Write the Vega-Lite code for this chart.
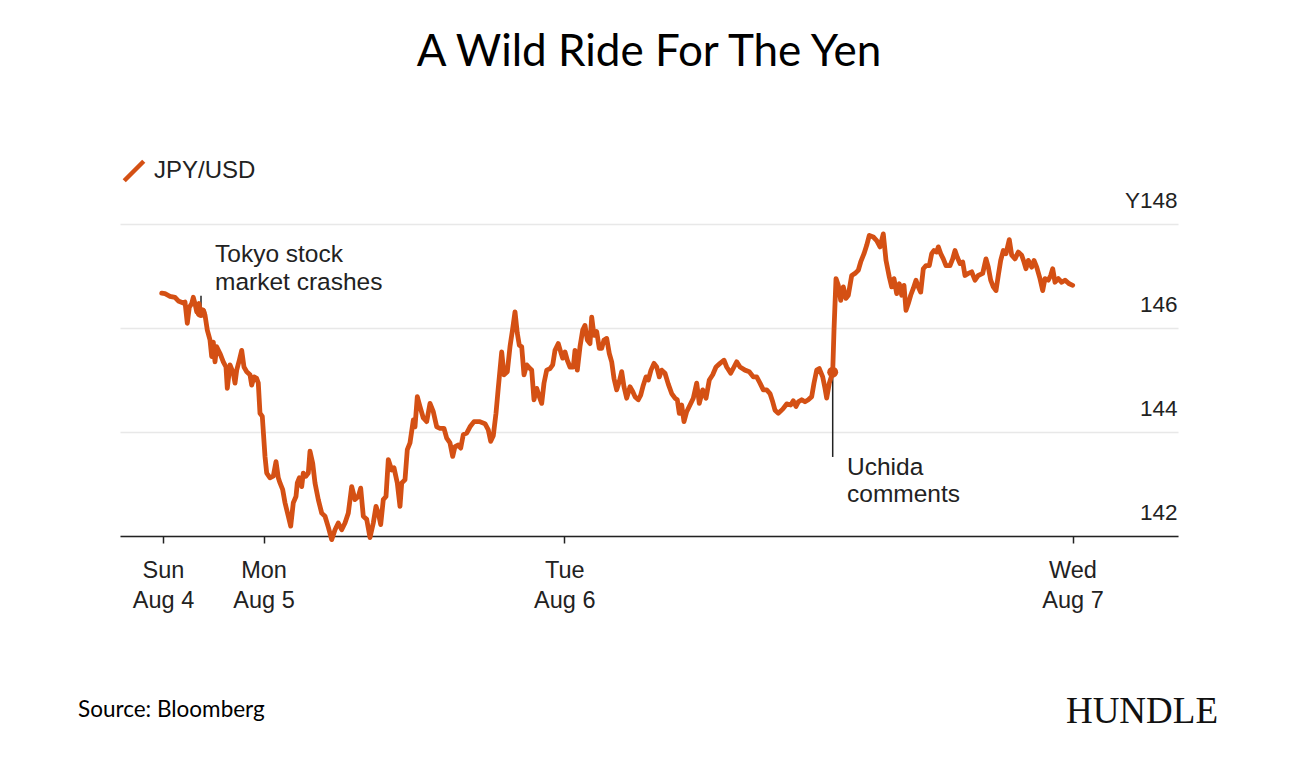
{
  "$schema": "https://vega.github.io/schema/vega-lite/v6.json",
  "width": 1058,
  "height": 312,
  "autosize": {"type": "none"},
  "padding": {"left": 120, "top": 224, "right": 118, "bottom": 242},
  "background": "white",
  "config": {"view": {"stroke": null}},
  "title": {
    "text": "A Wild Ride For The Yen",
    "font": "Lato",
    "fontSize": 44,
    "fontWeight": "normal",
    "color": "#000000",
    "anchor": "middle",
    "frame": "group",
    "baseline": "alphabetic",
    "offset": 49
  },
  "layer": [
    {
      "data": {"values": [
        {"t": 81, "v": 146.62, "v2": 146.3},
        {"t": 712.7, "v": 145.15, "v2": 143.52}
      ]},
      "mark": {"type": "rule", "color": "#222222", "strokeWidth": 1.5},
      "encoding": {
        "x": {"field": "t", "type": "quantitative"},
        "y": {"field": "v", "type": "quantitative"},
        "y2": {"field": "v2"}
      }
    },
    {
      "data": {"values": [
        {"t":41.7,"v":146.67},{"t":45,"v":146.66},{"t":50,"v":146.61},{"t":55,"v":146.59},{"t":58.3,"v":146.52},{"t":63.3,"v":146.48},{"t":65,"v":146.5},{"t":67.3,"v":146.09},{"t":69.3,"v":146.4},{"t":71.7,"v":146.47},{"t":73.3,"v":146.59},{"t":75,"v":146.47},{"t":76.7,"v":146.31},{"t":79,"v":146.47},{"t":80.7,"v":146.25},{"t":83.3,"v":146.34},{"t":85,"v":146.25},{"t":87.3,"v":145.96},{"t":90,"v":145.77},{"t":91.7,"v":145.45},{"t":93.3,"v":145.73},{"t":95,"v":145.35},{"t":96.7,"v":145.64},{"t":100,"v":145.51},{"t":103.3,"v":145.35},{"t":106,"v":145.25},{"t":107.3,"v":144.84},{"t":110,"v":145.29},{"t":113.3,"v":145.13},{"t":115,"v":144.94},{"t":116.7,"v":145.19},{"t":119.3,"v":145.38},{"t":121.7,"v":145.57},{"t":124,"v":145.25},{"t":126.7,"v":145.16},{"t":130,"v":145.1},{"t":131.7,"v":144.9},{"t":134,"v":145.06},{"t":136.7,"v":145.03},{"t":138.3,"v":144.94},{"t":140,"v":144.36},{"t":142.3,"v":144.3},{"t":145,"v":143.53},{"t":146.7,"v":143.21},{"t":150,"v":143.12},{"t":153.3,"v":143.15},{"t":156,"v":143.43},{"t":158.3,"v":143.12},{"t":160,"v":143.02},{"t":162.7,"v":142.89},{"t":165,"v":142.64},{"t":168.3,"v":142.38},{"t":170.7,"v":142.19},{"t":173.3,"v":142.64},{"t":176,"v":142.76},{"t":177.3,"v":143.02},{"t":179.3,"v":143.12},{"t":181.7,"v":142.95},{"t":183.3,"v":143.21},{"t":186,"v":143.15},{"t":188.3,"v":143.21},{"t":190,"v":143.63},{"t":192.7,"v":143.4},{"t":195,"v":143.02},{"t":198.3,"v":142.7},{"t":201.7,"v":142.44},{"t":205,"v":142.38},{"t":208.3,"v":142.17},{"t":211.7,"v":141.93},{"t":215,"v":142.12},{"t":218.3,"v":142.25},{"t":221.7,"v":142.12},{"t":225,"v":142.25},{"t":228.3,"v":142.44},{"t":231.7,"v":142.95},{"t":235,"v":142.7},{"t":238.3,"v":142.76},{"t":240.7,"v":142.92},{"t":243.3,"v":142.38},{"t":246.7,"v":142.32},{"t":250,"v":141.97},{"t":253.3,"v":142.25},{"t":256,"v":142.57},{"t":258.3,"v":142.44},{"t":260.7,"v":142.22},{"t":263.3,"v":142.7},{"t":266,"v":142.76},{"t":268.3,"v":143.47},{"t":271.7,"v":143.27},{"t":274,"v":143.31},{"t":277.3,"v":143.02},{"t":280,"v":142.57},{"t":281.7,"v":143.02},{"t":285,"v":143.08},{"t":287.3,"v":143.66},{"t":290,"v":143.79},{"t":293.3,"v":144.23},{"t":295,"v":144.1},{"t":297.3,"v":144.68},{"t":300,"v":144.49},{"t":303.3,"v":144.27},{"t":306.7,"v":144.2},{"t":310,"v":144.55},{"t":313.3,"v":144.39},{"t":316.7,"v":144.1},{"t":320,"v":144.07},{"t":324,"v":144.07},{"t":326.7,"v":143.88},{"t":330,"v":143.79},{"t":332.7,"v":143.53},{"t":335,"v":143.72},{"t":338.3,"v":143.75},{"t":340.7,"v":143.69},{"t":343.3,"v":143.95},{"t":346.7,"v":143.98},{"t":350,"v":144.1},{"t":354,"v":144.2},{"t":359.3,"v":144.2},{"t":365,"v":144.16},{"t":368.3,"v":144.04},{"t":370.7,"v":143.82},{"t":373.3,"v":143.93},{"t":376,"v":144.36},{"t":378.3,"v":144.85},{"t":381.7,"v":145.54},{"t":384,"v":145.1},{"t":387.3,"v":145.16},{"t":390,"v":145.64},{"t":392.7,"v":145.99},{"t":395,"v":146.31},{"t":397.3,"v":145.9},{"t":399.3,"v":145.67},{"t":401.7,"v":145.64},{"t":404,"v":145.1},{"t":406.7,"v":145.29},{"t":410,"v":145.22},{"t":411.7,"v":145.19},{"t":414,"v":144.62},{"t":416.7,"v":144.84},{"t":419.3,"v":144.68},{"t":421.7,"v":144.55},{"t":424,"v":144.94},{"t":426.7,"v":145.19},{"t":430,"v":145.22},{"t":432.7,"v":145.29},{"t":435,"v":145.57},{"t":438.3,"v":145.7},{"t":440.7,"v":145.54},{"t":442.7,"v":145.42},{"t":445,"v":145.54},{"t":447.3,"v":145.38},{"t":450,"v":145.25},{"t":453.3,"v":145.25},{"t":455,"v":145.57},{"t":457.3,"v":145.19},{"t":460,"v":145.64},{"t":462.7,"v":145.96},{"t":465,"v":146.05},{"t":467.3,"v":145.77},{"t":470,"v":145.7},{"t":471.7,"v":146.21},{"t":474,"v":145.86},{"t":476.7,"v":145.93},{"t":479.3,"v":145.61},{"t":481.7,"v":145.61},{"t":484,"v":145.77},{"t":486.7,"v":145.8},{"t":489.3,"v":145.51},{"t":491.7,"v":145.35},{"t":494,"v":145.03},{"t":496.7,"v":144.81},{"t":499.3,"v":144.97},{"t":501.7,"v":145.16},{"t":504,"v":144.87},{"t":506.7,"v":144.65},{"t":510,"v":144.87},{"t":512.7,"v":144.78},{"t":515,"v":144.68},{"t":518.3,"v":144.62},{"t":520.7,"v":144.71},{"t":523.3,"v":144.9},{"t":526,"v":145.06},{"t":528.3,"v":145},{"t":531,"v":145.19},{"t":534,"v":145.32},{"t":536.7,"v":145.25},{"t":539.3,"v":145.06},{"t":541.7,"v":145.19},{"t":545,"v":145.13},{"t":548.3,"v":144.92},{"t":551.7,"v":144.74},{"t":555,"v":144.65},{"t":557.3,"v":144.62},{"t":559.3,"v":144.36},{"t":561.7,"v":144.52},{"t":564,"v":144.2},{"t":566.7,"v":144.39},{"t":570,"v":144.52},{"t":573.3,"v":144.65},{"t":576.7,"v":144.94},{"t":579.3,"v":144.55},{"t":582.7,"v":144.81},{"t":586,"v":144.65},{"t":589.3,"v":145},{"t":592.7,"v":145.1},{"t":596,"v":145.25},{"t":600,"v":145.32},{"t":604,"v":145.38},{"t":606.7,"v":145.25},{"t":610.7,"v":145.13},{"t":614,"v":145.25},{"t":616.7,"v":145.35},{"t":620,"v":145.25},{"t":625,"v":145.19},{"t":629.3,"v":145.16},{"t":633.3,"v":145.06},{"t":636.7,"v":145.06},{"t":640,"v":144.94},{"t":643.3,"v":144.81},{"t":646.7,"v":144.81},{"t":650,"v":144.74},{"t":652.7,"v":144.58},{"t":655,"v":144.42},{"t":658.3,"v":144.36},{"t":662.7,"v":144.44},{"t":666.7,"v":144.54},{"t":670.7,"v":144.52},{"t":673.3,"v":144.6},{"t":676,"v":144.49},{"t":678.3,"v":144.58},{"t":681.7,"v":144.62},{"t":685,"v":144.58},{"t":688.3,"v":144.62},{"t":691.7,"v":144.68},{"t":694,"v":144.94},{"t":696.7,"v":145.19},{"t":699.3,"v":145.22},{"t":702.7,"v":145.06},{"t":705,"v":144.84},{"t":706.7,"v":144.65},{"t":709.3,"v":144.94},{"t":712.7,"v":145.15},{"t":714,"v":145.96},{"t":716,"v":146.95},{"t":718.3,"v":146.82},{"t":720.7,"v":146.53},{"t":723.3,"v":146.79},{"t":726,"v":146.57},{"t":728.3,"v":146.63},{"t":731.7,"v":147.01},{"t":735,"v":147.05},{"t":738.3,"v":147.11},{"t":740.7,"v":147.27},{"t":744,"v":147.43},{"t":746.7,"v":147.59},{"t":749.3,"v":147.78},{"t":753.3,"v":147.75},{"t":756.7,"v":147.68},{"t":760,"v":147.56},{"t":763.3,"v":147.81},{"t":766,"v":147.3},{"t":769.3,"v":146.98},{"t":771.7,"v":146.79},{"t":774,"v":146.95},{"t":776.7,"v":146.66},{"t":779.3,"v":146.85},{"t":781.7,"v":146.63},{"t":784,"v":146.82},{"t":786,"v":146.34},{"t":788.3,"v":146.47},{"t":790.7,"v":146.63},{"t":793.3,"v":146.76},{"t":796,"v":146.92},{"t":798.3,"v":146.79},{"t":800.7,"v":146.69},{"t":803.3,"v":147.14},{"t":806,"v":147.2},{"t":809.3,"v":147.2},{"t":811.7,"v":147.43},{"t":814,"v":147.49},{"t":816.7,"v":147.46},{"t":818.3,"v":147.56},{"t":820.7,"v":147.43},{"t":823.3,"v":147.33},{"t":826,"v":147.2},{"t":830,"v":147.2},{"t":832.7,"v":147.33},{"t":835,"v":147.49},{"t":837.3,"v":147.36},{"t":840,"v":147.24},{"t":842.7,"v":147.27},{"t":845,"v":147.01},{"t":848.3,"v":147.05},{"t":851.7,"v":147.08},{"t":855,"v":146.92},{"t":858.3,"v":147.01},{"t":862.7,"v":147.05},{"t":866,"v":147.33},{"t":868.3,"v":147.17},{"t":870.7,"v":146.92},{"t":873.3,"v":146.79},{"t":876,"v":146.72},{"t":878.3,"v":147.01},{"t":880.7,"v":147.3},{"t":883.3,"v":147.49},{"t":886,"v":147.43},{"t":889.3,"v":147.7},{"t":891.7,"v":147.4},{"t":895,"v":147.33},{"t":898.3,"v":147.46},{"t":901.7,"v":147.4},{"t":904,"v":147.27},{"t":906,"v":147.14},{"t":908.3,"v":147.3},{"t":911.7,"v":147.17},{"t":914,"v":147.3},{"t":916.7,"v":147.17},{"t":920,"v":146.95},{"t":922.7,"v":146.72},{"t":925,"v":146.95},{"t":928.3,"v":146.92},{"t":930.7,"v":147.01},{"t":932.7,"v":147.14},{"t":935,"v":146.88},{"t":938.3,"v":146.95},{"t":941.7,"v":146.88},{"t":945,"v":146.92},{"t":949.3,"v":146.85},{"t":952.7,"v":146.82}
      ]},
      "mark": {"type": "line", "strokeWidth": 4.8, "strokeJoin": "round", "strokeCap": "round"},
      "encoding": {
        "x": {
          "field": "t", "type": "quantitative",
          "scale": {"domain": [0, 1058], "nice": false, "zero": false},
          "axis": {
            "title": null, "grid": false,
            "values": [43, 143.5, 444.3, 952.5],
            "labelExpr": "datum.value < 100 ? ['Sun', 'Aug 4'] : datum.value < 300 ? ['Mon', 'Aug 5'] : datum.value < 700 ? ['Tue', 'Aug 6'] : ['Wed', 'Aug 7']",
            "domainColor": "#222222", "domainWidth": 1.5,
            "tickColor": "#222222", "tickWidth": 1.5, "tickSize": 7,
            "labelFont": "Liberation Sans", "labelFontSize": 23.5, "labelColor": "#222222",
            "labelPadding": 15, "labelLineHeight": 30.5, "labelFlush": false, "labelOverlap": false
          }
        },
        "y": {
          "field": "v", "type": "quantitative",
          "scale": {"domain": [142, 148], "nice": false, "zero": false},
          "axis": {
            "orient": "right", "title": null,
            "values": [142, 144, 146, 148],
            "labelExpr": "datum.value == 148 ? 'Y148' : datum.label",
            "domain": false, "ticks": false, "tickSize": 0,
            "grid": true, "gridColor": "#e8e8e8", "gridWidth": 1.5,
            "labelAlign": "right", "labelBaseline": "alphabetic", "labelOffset": -17, "labelPadding": -1,
            "labelFont": "Liberation Sans", "labelFontSize": 22.5, "labelColor": "#222222", "labelOverlap": false
          }
        },
        "color": {
          "datum": "JPY/USD", "type": "nominal",
          "scale": {"range": ["#D45014"]},
          "legend": {
            "orient": "none", "legendX": 2, "legendY": -65, "title": null, "padding": 0,
            "symbolType": "M-1,1L1,-1", "symbolSize": 380, "symbolStrokeWidth": 4.5,
            "labelFont": "Liberation Sans", "labelFontSize": 24, "labelColor": "#222222", "labelOffset": 8
          }
        }
      }
    },
    {
      "data": {"values": [
        {"t": 81, "v": 146.3},
        {"t": 712.7, "v": 145.15}
      ]},
      "mark": {"type": "circle", "size": 120, "color": "#D45014", "opacity": 1},
      "encoding": {
        "x": {"field": "t", "type": "quantitative"},
        "y": {"field": "v", "type": "quantitative"}
      }
    },
    {
      "data": {"values": [
        {"t": 95, "v": 147.26, "label": "Tokyo stock"},
        {"t": 95, "v": 146.73, "label": "market crashes"},
        {"t": 727, "v": 143.18, "label": "Uchida"},
        {"t": 727, "v": 142.65, "label": "comments"}
      ]},
      "mark": {"type": "text", "align": "left", "baseline": "alphabetic", "font": "Liberation Sans", "fontSize": 24.5, "color": "#222222"},
      "encoding": {
        "x": {"field": "t", "type": "quantitative"},
        "y": {"field": "v", "type": "quantitative"},
        "text": {"field": "label"}
      }
    },
    {
      "data": {"values": [{"t": -42, "v": 138.52, "label": "Source: Bloomberg"}]},
      "mark": {"type": "text", "align": "left", "baseline": "alphabetic", "font": "Lato", "fontSize": 22.5, "color": "#000000"},
      "encoding": {
        "x": {"field": "t", "type": "quantitative"},
        "y": {"field": "v", "type": "quantitative"},
        "text": {"field": "label"}
      }
    },
    {
      "data": {"values": [{"t": 1098, "v": 138.4, "label": "HUNDLE"}]},
      "mark": {"type": "text", "align": "right", "baseline": "alphabetic", "font": "Liberation Serif", "fontSize": 37, "color": "#111111"},
      "encoding": {
        "x": {"field": "t", "type": "quantitative"},
        "y": {"field": "v", "type": "quantitative"},
        "text": {"field": "label"}
      }
    }
  ]
}
